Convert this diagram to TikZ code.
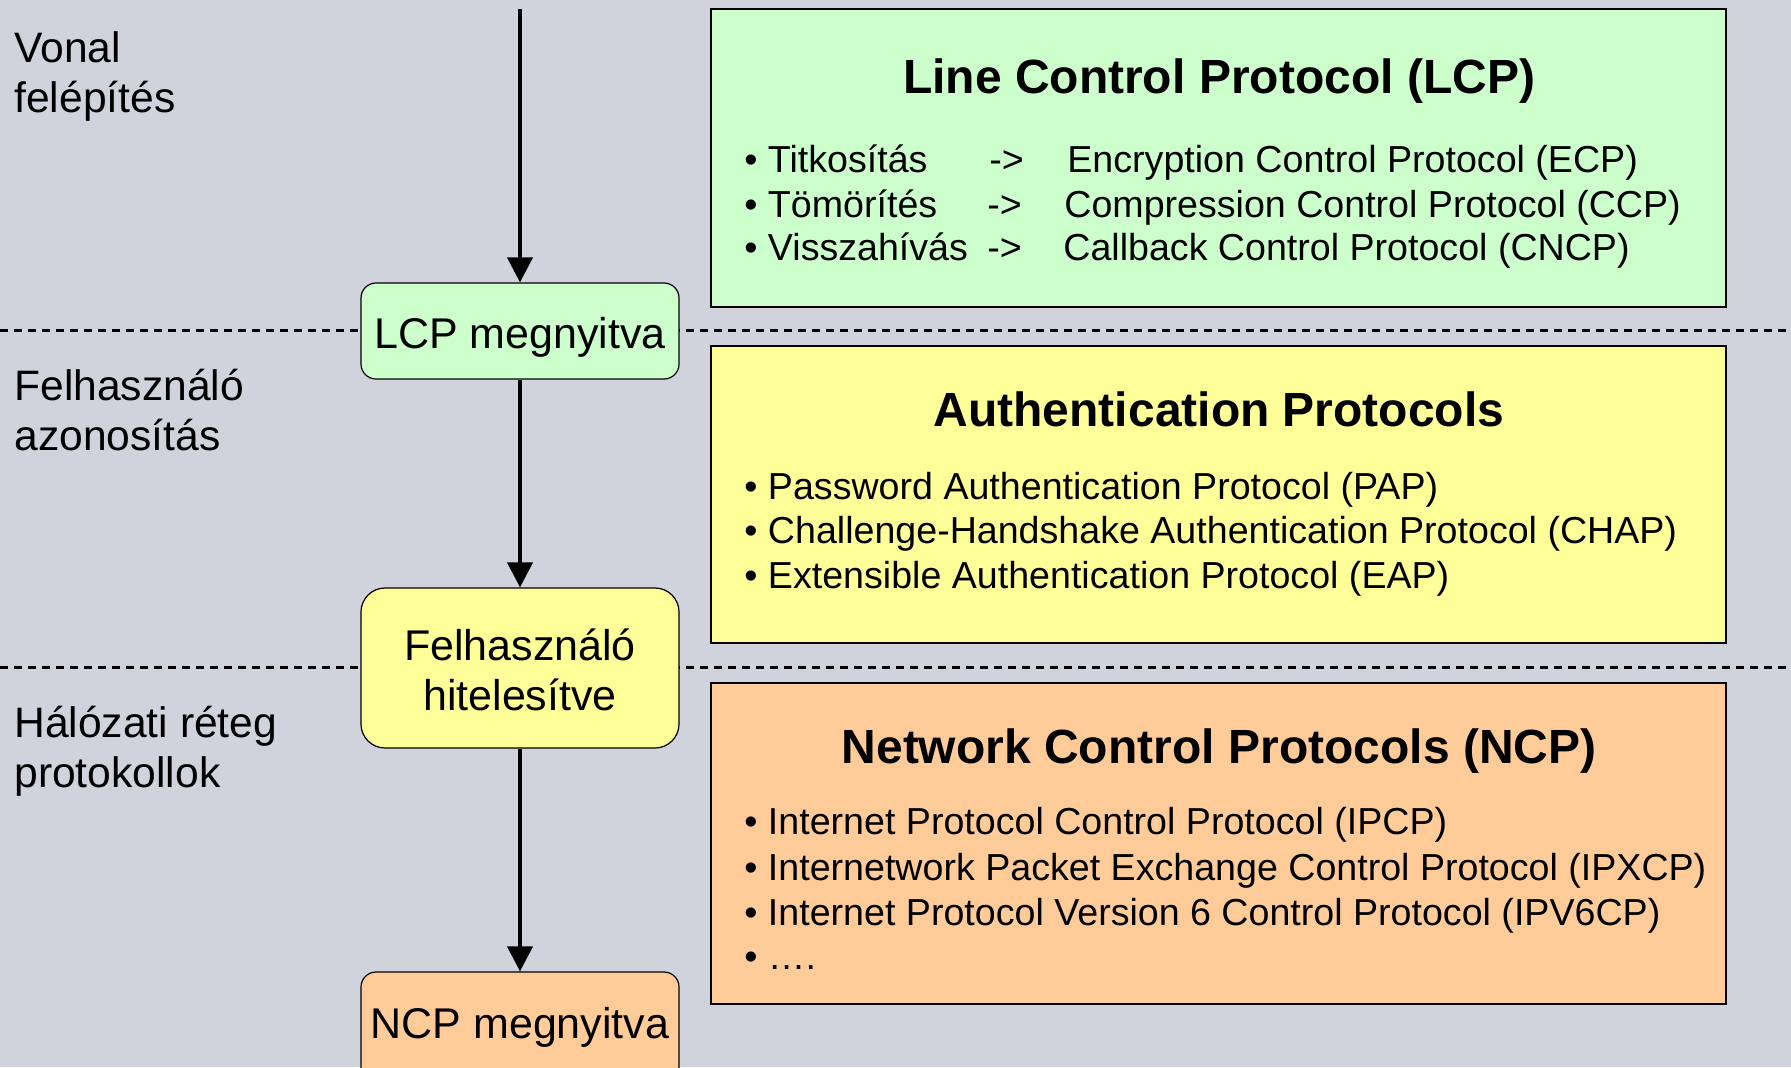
\documentclass[tikz,border=0pt]{standalone}
\usepackage{fontspec}
\setmainfont{Liberation Sans}
\usetikzlibrary{arrows.meta,fit}

\definecolor{bgcol}{RGB}{208,211,220}
\definecolor{lcpgreen}{RGB}{204,255,204}
\definecolor{authyellow}{RGB}{255,255,153}
\definecolor{ncporange}{RGB}{255,204,153}

\tikzset{
  panel/.style={draw=black, line width=0.8pt, inner sep=0pt},
  statebox/.style={draw=black, line width=0.6pt, inner sep=0pt, rounded corners=7.5pt},
  sep/.style={line width=1.5pt, dash pattern=on 4pt off 3pt},
  flow/.style={line width=2pt, -{Triangle[length=12.5pt,width=12.5pt]}},
  phase/.style={anchor=base west, inner sep=0pt, font=\fontsize{21.3}{26}\selectfont},
  statetext/.style={anchor=base, inner sep=0pt, font=\fontsize{21.5}{26}\selectfont},
  title/.style={anchor=base, inner sep=0pt, font=\fontsize{24}{28}\selectfont\bfseries},
  item/.style={anchor=base west, inner sep=0pt, font=\fontsize{18.8}{22}\selectfont},
}

\begin{document}
\begin{tikzpicture}[x=0.5pt,y=-0.5pt]
\fill[bgcol] (0,0) rectangle (1791,1067);
\useasboundingbox (0,0) rectangle (1791,1067);

% phase separators
\draw[sep] (0,330) -- (1791,330);
\draw[sep] (0,667) -- (1791,667);

% protocol panels
\node[panel, fill=lcpgreen, fit={(711,9) (1726,307)}] (lcpp) {};
\node[panel, fill=authyellow, fit={(711,346) (1726,643)}] (authp) {};
\node[panel, fill=ncporange, fit={(711,683) (1726,1004)}] (ncpp) {};

% state boxes
\node[statebox, fill=lcpgreen, fit={(361,283) (679,379)}] (lcp) {};
\node[statebox, fill=authyellow, rounded corners=12pt, fit={(361,588) (679,748)}] (auth) {};
\node[statebox, fill=ncporange, fit={(361,972) (679,1090)}] (ncp) {};

% flow
\coordinate (start) at (520,9);
\draw[flow] (start) -- (lcp.north);
\draw[flow] (lcp.south) -- (auth.north);
\draw[flow] (auth.south) -- (ncp.north);

% state labels
\node[statetext] (lcpt) at (520,348) {LCP megnyitva};
\node[statetext] (autht1) at (520,660) {Felhasználó};
\node[statetext] (autht2) at (520,710) {hitelesítve};
\node[statetext] (ncpt) at (520,1038) {NCP megnyitva};

% phase labels
\node[phase] (ph1a) at (14,62) {Vonal};
\node[phase] (ph1b) at (14,112) {felépítés};
\node[phase] (ph2a) at (14,400) {Felhasználó};
\node[phase] (ph2b) at (14,450) {azonosítás};
\node[phase] (ph3a) at (14,737) {Hálózati réteg};
\node[phase] (ph3b) at (14,787) {protokollok};

% LCP panel
\node[title] (lcpttl) at (1219,93) {Line Control Protocol (LCP)};
\node[item] (l1) at (744,172) {• Titkosítás};
\node[item] (l2) at (744,217) {• Tömörítés};
\node[item] (l3) at (744,260) {• Visszahívás};
\node[item] (a1) at (989,172) {->};
\node[item] (a2) at (987,217) {->};
\node[item] (a3) at (987,260) {->};
\node[item] (r1) at (1067,172) {Encryption Control Protocol (ECP)};
\node[item] (r2) at (1064,217) {Compression Control Protocol (CCP)};
\node[item] (r3) at (1063,260) {Callback Control Protocol (CNCP)};

% authentication panel
\node[title] (authttl) at (1219,426) {Authentication Protocols};
\node[item] (p1) at (744,499) {• Password Authentication Protocol (PAP)};
\node[item] (p2) at (744,543) {• Challenge-Handshake Authentication Protocol (CHAP)};
\node[item] (p3) at (744,588) {• Extensible Authentication Protocol (EAP)};

% NCP panel
\node[title] (ncpttl) at (1219,763) {Network Control Protocols (NCP)};
\node[item] (n1) at (744,834) {• Internet Protocol Control Protocol (IPCP)};
\node[item] (n2) at (744,880) {• Internetwork Packet Exchange Control Protocol (IPXCP)};
\node[item] (n3) at (744,925) {• Internet Protocol Version 6 Control Protocol (IPV6CP)};
\node[item] (n4) at (744,969) {• ….};
\end{tikzpicture}
\end{document}
